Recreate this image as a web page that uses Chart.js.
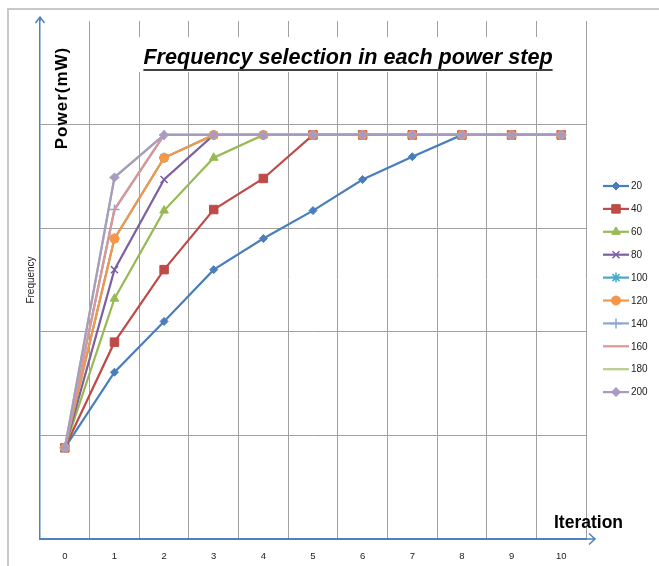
<!DOCTYPE html>
<html>
<head>
<meta charset="utf-8">
<script src="https://cdn.jsdelivr.net/npm/chart.js@4.4.1/dist/chart.umd.min.js"></script>
<style>
  html, body { margin: 0; padding: 0; background: #fff; }
</style>
</head>
<body>
<canvas id="chart" width="659" height="566"></canvas>
<script>
// x categories (iteration number)
const iterations = ["0", "1", "2", "3", "4", "5", "6", "7", "8", "9", "10"];

// one series per power step (no y tick labels, units of a gridline)
const seriesNames = ["20", "40", "60", "80", "100", "120", "140", "160", "180", "200"];
const step20 = [0.88, 1.61, 2.10, 2.60, 2.90, 3.17, 3.47, 3.69, 3.90, 3.90, 3.90];
const step40 = [0.88, 1.90, 2.60, 3.18, 3.48, 3.90, 3.90, 3.90, 3.90, 3.90, 3.90];
const step60 = [0.88, 2.32, 3.17, 3.68, 3.90, 3.90, 3.90, 3.90, 3.90, 3.90, 3.90];
const step80 = [0.88, 2.60, 3.47, 3.90, 3.90, 3.90, 3.90, 3.90, 3.90, 3.90, 3.90];
const step100 = [0.88, 2.90, 3.68, 3.90, 3.90, 3.90, 3.90, 3.90, 3.90, 3.90, 3.90];
const step120 = [0.88, 2.90, 3.68, 3.90, 3.90, 3.90, 3.90, 3.90, 3.90, 3.90, 3.90];
const step140 = [0.88, 3.18, 3.90, 3.90, 3.90, 3.90, 3.90, 3.90, 3.90, 3.90, 3.90];
const step160 = [0.88, 3.18, 3.90, 3.90, 3.90, 3.90, 3.90, 3.90, 3.90, 3.90, 3.90];
const step180 = [0.88, 3.49, 3.90, 3.90, 3.90, 3.90, 3.90, 3.90, 3.90, 3.90, 3.90];
const step200 = [0.88, 3.49, 3.90, 3.90, 3.90, 3.90, 3.90, 3.90, 3.90, 3.90, 3.90];

const seriesValues = [step20, step40, step60, step80, step100, step120, step140, step160, step180, step200];
const seriesColors = ["#4a7ebb", "#be4b48", "#98b954", "#7d60a0", "#46aac5",
                      "#f79646", "#8ea6d0", "#d99795", "#b5cf8a", "#a89bc1"];
const seriesMarkers = ["rectRot", "rect", "triangle", "crossRot", "star",
                       "circle", "cross", false, "line", "rectRot"];
const markerSizes = [4, 6, 5, 5, 5, 4.5, 5, 0, 5, 4.5];

const FONT = '"Liberation Sans", Arial, sans-serif';
const AXIS_BLUE = "#4f81bd";
const GRID = "#a0a0a0";

// Excel draws later series on top, chart.js draws highest `order` first
const datasets = seriesNames.map((name, i) => ({
  label: name,
  data: seriesValues[i],
  borderColor: seriesColors[i],
  backgroundColor: seriesColors[i],
  borderWidth: 2.2,
  pointStyle: seriesMarkers[i],
  pointRadius: markerSizes[i],
  pointBorderWidth: ["cross", "crossRot", "star", "line"].includes(seriesMarkers[i]) ? 1.5 : 1,
  tension: 0,
  order: seriesNames.length - i,
}));

// annotations, axis arrows and the legend, drawn like the spreadsheet chart
const decorPlugin = {
  id: "decor",
  beforeDraw(chart) {
    const ctx = chart.ctx;
    ctx.save();
    ctx.strokeStyle = "#c8c8c8";
    ctx.lineWidth = 2;
    ctx.beginPath();
    ctx.moveTo(8, 566);
    ctx.lineTo(8, 9);
    ctx.lineTo(659, 9);
    ctx.stroke();
    ctx.restore();
  },
  afterDraw(chart) {
    const ctx = chart.ctx;
    const area = chart.chartArea;
    ctx.save();

    // axis arrows
    ctx.strokeStyle = AXIS_BLUE;
    ctx.lineWidth = 1.5;
    ctx.beginPath();
    ctx.moveTo(area.left, area.top);
    ctx.lineTo(area.left, area.top - 4);
    ctx.moveTo(area.left - 4.5, area.top + 2);
    ctx.lineTo(area.left, area.top - 4);
    ctx.lineTo(area.left + 4.5, area.top + 2);
    ctx.stroke();
    ctx.beginPath();
    ctx.moveTo(area.right, area.bottom);
    ctx.lineTo(area.right + 9, area.bottom);
    ctx.moveTo(area.right + 3, area.bottom - 5.5);
    ctx.lineTo(area.right + 9, area.bottom);
    ctx.lineTo(area.right + 3, area.bottom + 5.5);
    ctx.stroke();

    // title with its white box, sized to span the same width as the original
    const title = "Frequency selection in each power step";
    ctx.fillStyle = "#fff";
    ctx.fillRect(134, 37, 428, 35);
    ctx.font = "italic bold 20px " + FONT;
    const size = Math.min(22, 20 * 410 / ctx.measureText(title).width);
    ctx.font = "italic bold " + size.toFixed(1) + "px " + FONT;
    const tw = ctx.measureText(title).width;
    const tx = 348 - tw / 2;
    ctx.fillStyle = "#000";
    ctx.textBaseline = "alphabetic";
    ctx.fillText(title, tx, 64);
    ctx.strokeStyle = "#000";
    ctx.lineWidth = 1.5;
    ctx.beginPath();
    ctx.moveTo(tx, 70);
    ctx.lineTo(tx + tw, 70);
    ctx.stroke();

    // Power(mW) label inside the plot
    ctx.save();
    ctx.translate(67, 98);
    ctx.rotate(-Math.PI / 2);
    ctx.font = "bold 17px " + FONT;
    ctx.letterSpacing = "1px";
    ctx.textAlign = "center";
    ctx.fillText("Power(mW)", 0, 0);
    ctx.restore();

    // Iteration label near the x arrow
    ctx.font = "bold 17.5px " + FONT;
    ctx.textAlign = "left";
    ctx.fillText("Iteration", 554, 528);

    // legend: line sample with marker, then the label
    const helpers = Chart.helpers;
    ctx.font = "10px " + FONT;
    ctx.textBaseline = "middle";
    chart.data.datasets.forEach((ds, i) => {
      const y = 186 + i * 22.9;
      ctx.strokeStyle = ds.borderColor;
      ctx.fillStyle = ds.borderColor;
      ctx.lineWidth = 2.2;
      ctx.beginPath();
      ctx.moveTo(603, y);
      ctx.lineTo(629, y);
      ctx.stroke();
      if (ds.pointStyle && helpers && helpers.drawPoint) {
        ctx.lineWidth = ds.pointBorderWidth;
        helpers.drawPoint(ctx, {
          pointStyle: ds.pointStyle,
          radius: ds.pointRadius,
          borderWidth: ds.pointBorderWidth,
          rotation: 0,
        }, 616, y);
      }
      ctx.fillStyle = "#222";
      ctx.fillText(ds.label, 631, y + 0.5);
    });

    ctx.restore();
  },
};

new Chart(document.getElementById("chart"), {
  type: "line",
  data: { labels: iterations, datasets },
  plugins: [decorPlugin],
  options: {
    responsive: false,
    animation: false,
    layout: { padding: { top: 21, right: 73, left: 0, bottom: 0 } },
    plugins: {
      legend: { display: false },
      tooltip: { enabled: false },
    },
    scales: {
      x: {
        type: "category",
        offset: true,
        afterFit: (scale) => { scale.height = 27; },
        grid: { offset: true, color: GRID, lineWidth: 1, drawTicks: false },
        border: { color: AXIS_BLUE, width: 2 },
        ticks: { color: "#222", font: { size: 9.5, family: FONT }, padding: 12, maxRotation: 0 },
      },
      y: {
        min: 0,
        max: 5,
        afterFit: (scale) => { scale.width = 40; },
        grid: {
          color: (c) => (c.tick && c.tick.value === 5 ? "rgba(0,0,0,0)" : GRID),
          lineWidth: 1,
          drawTicks: false,
        },
        border: { color: AXIS_BLUE, width: 1.5 },
        ticks: { display: false, stepSize: 1 },
        title: {
          display: true,
          text: "Frequency",
          color: "#222",
          font: { size: 10, family: FONT },
          padding: { top: 25, bottom: 0 },
        },
      },
    },
  },
});
</script>
</body>
</html>
